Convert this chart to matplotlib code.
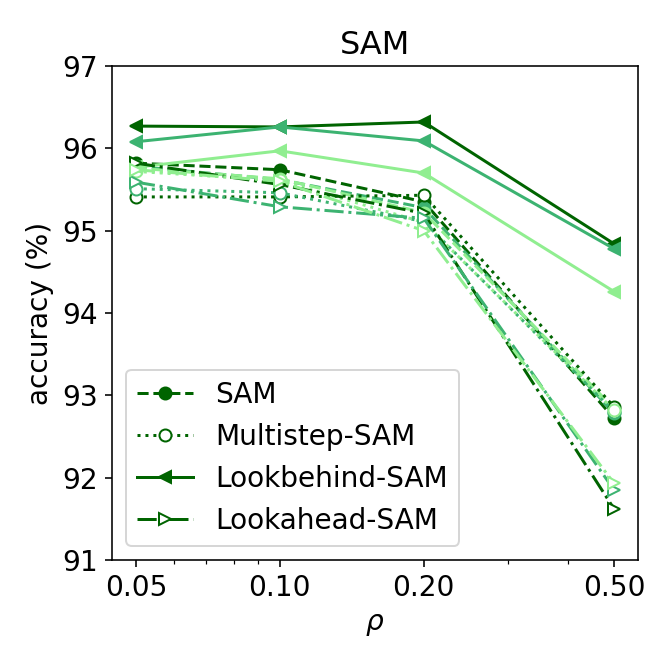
import matplotlib
matplotlib.use("Agg")
import matplotlib.pyplot as plt
from matplotlib.ticker import FixedLocator, FixedFormatter, NullFormatter

plt.rcParams["font.size"] = 14

rho = [0.05, 0.10, 0.20, 0.50]
rho_labels = ["0.05", "0.10", "0.20", "0.50"]
shades = ["darkgreen", "mediumseagreen", "lightgreen"]

methods = ["SAM", "Multistep-SAM", "Lookbehind-SAM", "Lookahead-SAM"]

# one row per shade (dark, medium, light)
sam_acc = [
    [95.82, 95.74, 95.35, 92.72],
    [95.78, 95.62, 95.28, 92.78],
    [95.76, 95.63, 95.22, 92.84],
]
multistep_acc = [
    [95.41, 95.41, 95.43, 92.86],
    [95.51, 95.46, 95.11, 92.80],
    [95.72, 95.61, 95.10, 92.82],
]
lookbehind_acc = [
    [96.27, 96.26, 96.32, 94.84],
    [96.08, 96.26, 96.09, 94.78],
    [95.77, 95.97, 95.70, 94.26],
]
lookahead_acc = [
    [95.82, 95.56, 95.21, 91.62],
    [95.59, 95.29, 95.15, 91.85],
    [95.74, 95.60, 95.00, 91.93],
]

styles = {
    "SAM": dict(linestyle="--", marker="o", fill=True),
    "Multistep-SAM": dict(linestyle=":", marker="o", fill=False),
    "Lookbehind-SAM": dict(linestyle="-", marker="<", fill=True),
    "Lookahead-SAM": dict(linestyle="-.", marker=">", fill=False),
}
data = {
    "SAM": sam_acc,
    "Multistep-SAM": multistep_acc,
    "Lookbehind-SAM": lookbehind_acc,
    "Lookahead-SAM": lookahead_acc,
}

fig = plt.figure(figsize=(664 / 144, 664 / 144), dpi=144)
ax = fig.add_axes([112 / 664, 1 - 560 / 664, 526 / 664, 494 / 664])

for name in methods:
    st = styles[name]
    for i, color in enumerate(shades):
        ax.plot(
            rho,
            data[name][i],
            color=color,
            linestyle=st["linestyle"],
            marker=st["marker"],
            markerfacecolor=color if st["fill"] else "white",
            markeredgecolor=color,
            label=name if i == 0 else None,
        )

ax.set_xscale("log")
ax.xaxis.set_major_locator(FixedLocator(rho))
ax.xaxis.set_major_formatter(FixedFormatter(rho_labels))
ax.xaxis.set_minor_formatter(NullFormatter())
ax.set_ylim(91, 97)
ax.set_yticks([91, 92, 93, 94, 95, 96, 97])
ax.set_xlabel(r"$\rho$")
ax.set_ylabel("accuracy (%)")
ax.set_title("SAM", fontsize=16)
ax.legend(loc="lower left")

fig.savefig("out.png", dpi=144)
